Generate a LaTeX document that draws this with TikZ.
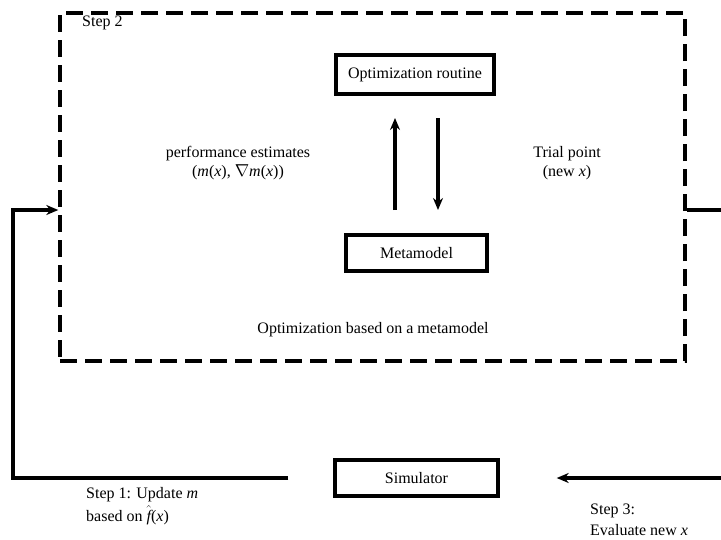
\documentclass[tikz,border=0pt]{standalone}
\usepackage{fontspec}
\setmainfont{Liberation Serif}
\usetikzlibrary{arrows.meta,calc}
\tikzset{
  blk/.style={draw,line width=3.4pt,minimum height=#1,inner sep=0pt,font=\fontsize{16}{20}\selectfont},
  blk/.default=37pt,
  lbl/.style={align=center,font=\fontsize{16}{19}\selectfont,inner sep=0pt},
  conn/.style={line width=3.4pt,-{Stealth[length=12pt,width=10pt]}},
  plain/.style={line width=3.4pt},
  dbox/.style={draw,line width=3.4pt,dash pattern=on 17pt off 8pt,minimum width=625pt,minimum height=348pt,inner sep=0pt}
}
\begin{document}
\begin{tikzpicture}[x=1pt,y=-1pt]
\useasboundingbox (0,0) rectangle (721,539);
\node[dbox] (opt) at (372.5,187) {};
\node[lbl,anchor=west] (s2) at (82,23) {Step 2};
\node[blk=39pt,minimum width=158pt] (routine) at (415,74.5) {Optimization routine};
\node[blk=36pt,minimum width=141pt] (meta) at (416.5,253) {Metamodel};
\node[blk=36pt,minimum width=163pt] (sim) at (416.5,478) {Simulator};
\node[lbl] (perf) at (238,163) {performance estimates\\(\textit{m}(\textit{x}), $\nabla$\textit{m}(\textit{x}))};
\node[lbl] (trial) at (567,163) {Trial point\\(new \textit{x})};
\node[lbl] (obm) at (373,330) {Optimization based on a metamodel};
\node[lbl,anchor=north west,align=left,font=\fontsize{16}{23}\selectfont] (s1) at (86,487) {Step 1: Update \textit{m}\\based on $\hat{\textit{f}}$(\textit{x})};
\node[lbl,anchor=north west,align=left,font=\fontsize{16}{21}\selectfont] (s3) at (590,504) {Step 3:\\Evaluate new \textit{x}};
% inner arrows
\coordinate (ua0) at (395,210);
\coordinate (ua1) at (395,118);
\coordinate (da0) at (438,118);
\coordinate (da1) at (438,210);
\draw[conn] (ua0) -- (ua1);
\draw[conn] (da0) -- (da1);
% outer loop
\coordinate (l0) at ([xshift=-45pt]sim.west);
\coordinate (lc1) at (13,478);
\coordinate (lc2) at (13,210);
\draw[conn] (l0) -- (lc1) -- (lc2) -- (lc2 -| opt.west);
\coordinate (r0) at (721,210);
\draw[plain] (r0) -- (r0 -| opt.east);
\coordinate (r1) at (721,478);
\draw[conn] (r1) -- ([xshift=57pt]sim.east);
\end{tikzpicture}
\end{document}
